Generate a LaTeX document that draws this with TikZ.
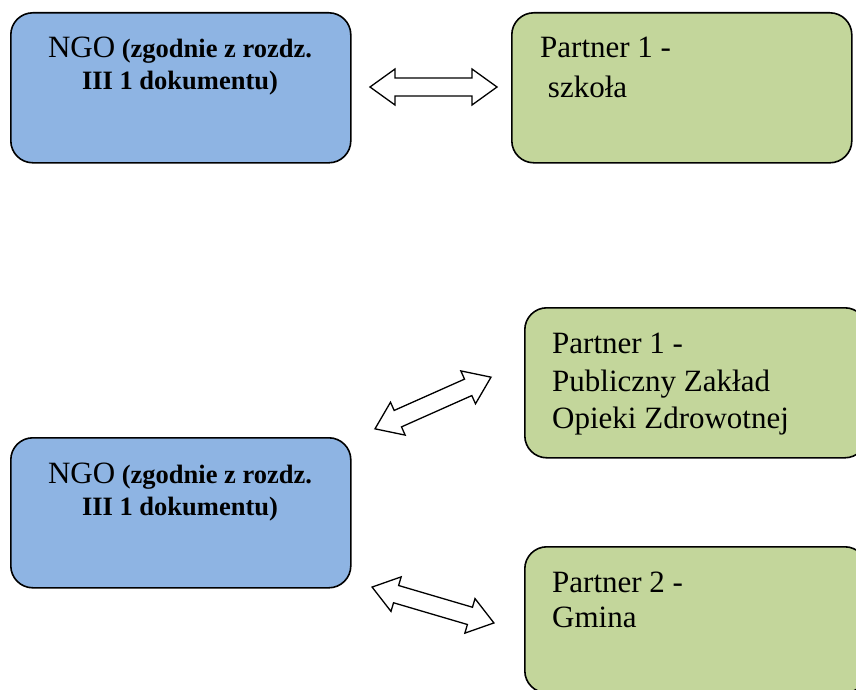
\documentclass[tikz,border=0pt]{standalone}
\usepackage{fontspec}
\setmainfont{Liberation Serif}
\definecolor{ngoblue}{HTML}{8EB4E3}
\definecolor{partgreen}{HTML}{C3D69B}
\tikzset{
  box/.style={draw=black, line width=1.6pt, rounded corners=22pt, minimum width=#1, minimum height=150pt, inner sep=0pt, anchor=north west},
  ngobox/.style={box=340pt, fill=ngoblue},
  partbox/.style={box=342pt, fill=partgreen},
  txt/.style={inner sep=0pt, anchor=base west, font=\fontsize{31}{37}\selectfont},
  ngotxt/.style={inner sep=0pt, anchor=base, font=\fontsize{26.5}{32}\selectfont\bfseries},
  pics/dblarrow/.style={code={
    \draw[line width=1.3pt, fill=white, line join=miter]
      (-63.5,0) -- (-38.5,-18) -- (-38.5,-9) -- (38.5,-9) -- (38.5,-18) -- (63.5,0)
      -- (38.5,18) -- (38.5,9) -- (-38.5,9) -- (-38.5,18) -- cycle;
  }}
}
\begin{document}
\begin{tikzpicture}[x=1pt, y=-1pt]
\useasboundingbox (0,0) rectangle (856,690);
\clip (0,0) rectangle (856,690);
% top row
\node[ngobox] (ngo1) at (10,12) {};
\node[ngotxt] (ngo1a) at (180,58) {{\mdseries\fontsize{31}{32}\selectfont NGO} (zgodnie z rozdz.};
\node[ngotxt] (ngo1b) at (180,90) {III 1 dokumentu)};
\node[partbox, minimum width=340pt] (p1) at (511,12) {};
\node[txt] (p1a) at (540,58) {Partner 1 -};
\node[txt] (p1b) at (540,98) {\ szkoła};
\pic at (433.5,87) {dblarrow};
% bottom part
\node[ngobox] (ngo2) at (10,437) {};
\node[ngotxt] (ngo2a) at (180,483) {{\mdseries\fontsize{31}{32}\selectfont NGO} (zgodnie z rozdz.};
\node[ngotxt] (ngo2b) at (180,515) {III 1 dokumentu)};
\node[partbox] (p2) at (524,307) {};
\node[txt] (p2a) at (552,353) {Partner 1 -};
\node[txt] (p2b) at (552,391) {Publiczny Zakład};
\node[txt] (p2c) at (552,428) {Opieki Zdrowotnej};
\node[partbox, minimum height=146pt] (p3) at (524,546) {};
\node[txt] (p3a) at (552,592) {Partner 2 -};
\node[txt] (p3b) at (552,627) {Gmina};
\pic[rotate=24] at (433,403) {dblarrow};
\pic[rotate=-16.4] at (433,605) {dblarrow};
\end{tikzpicture}
\end{document}
